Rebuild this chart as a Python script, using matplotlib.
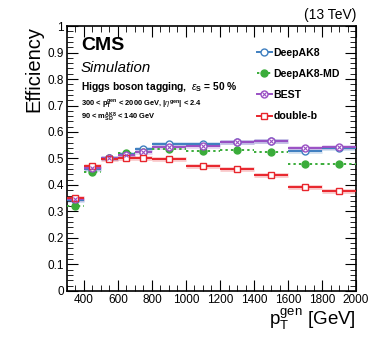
import numpy as np
import matplotlib
matplotlib.use("Agg")
import matplotlib.pyplot as plt
from matplotlib.ticker import MultipleLocator, FixedLocator, FixedFormatter

plt.rcParams['font.family'] = ['Liberation Sans', 'DejaVu Sans']
plt.rcParams['mathtext.fontset'] = 'custom'
plt.rcParams['mathtext.rm'] = 'Liberation Sans'
plt.rcParams['mathtext.it'] = 'Liberation Sans:italic'
plt.rcParams['mathtext.bf'] = 'Liberation Sans:bold'

# pT bins (GeV)
bin_edges = [300, 400, 500, 600, 700, 800, 1000, 1200, 1400, 1600, 1800, 2000]

# efficiencies per bin
eff_deepak8 = [0.344, 0.460, 0.500, 0.518, 0.536, 0.554, 0.554, 0.564, 0.567, 0.530, 0.538]
eff_deepak8_md = [0.322, 0.449, 0.500, 0.520, 0.525, 0.537, 0.529, 0.531, 0.525, 0.480, 0.480]
eff_best = [0.347, 0.463, 0.500, 0.513, 0.525, 0.543, 0.548, 0.563, 0.566, 0.538, 0.544]
eff_doubleb = [0.351, 0.471, 0.499, 0.503, 0.500, 0.499, 0.473, 0.459, 0.437, 0.392, 0.376]

series_names = ['DeepAK8', 'DeepAK8-MD', 'BEST', 'double-b']
series_colors = ['#3f7fc0', '#3aac3a', '#9a50c4', '#e8252c']

edges = np.array(bin_edges)
centers = (edges[:-1] + edges[1:]) / 2
half_w = (edges[1:] - edges[:-1]) / 2

fig = plt.figure(figsize=(3.74, 3.43), dpi=100)
ax = fig.add_axes([0.179, 0.152, 0.773, 0.772])

all_eff = [eff_deepak8, eff_deepak8_md, eff_best, eff_doubleb]
handles = []
for name, eff, col in zip(series_names, all_eff, series_colors):
    eff = np.array(eff)
    ls = (0, (1.2, 1.6)) if name == 'DeepAK8-MD' else '-'
    if name != 'DeepAK8-MD':
        # light shadow band under the bin lines
        ax.errorbar(centers, eff, xerr=half_w, fmt='none', ecolor=col,
                    elinewidth=3.4, alpha=0.25, capsize=0, zorder=2)
    eb = ax.errorbar(centers, eff, xerr=half_w, fmt='none', ecolor=col,
                     elinewidth=1.4, capsize=0, zorder=3)
    eb[2][0].set_linestyle(ls)
    if name == 'DeepAK8':
        m, = ax.plot(centers, eff, 'o', ms=5, mfc='white', mec=col, mew=1.0, zorder=5)
    elif name == 'DeepAK8-MD':
        m, = ax.plot(centers, eff, 'o', ms=5, mfc=col, mec=col, zorder=5)
    elif name == 'BEST':
        m, = ax.plot(centers, eff, 'o', ms=5, mfc='white', mec=col, mew=1.0, zorder=5)
        ax.plot(centers, eff, 'x', ms=3.5, mec=col, mew=0.8, zorder=6)
    else:
        m, = ax.plot(centers, eff, 's', ms=5, mfc='white', mec=col, mew=1.0, zorder=5)
    leg_line, = ax.plot([], [], color=col, ls=ls, lw=1.4)
    if name == 'BEST':
        x_m, = ax.plot([], [], 'x', ms=3.5, mec=col, mew=0.8)
        handles.append((leg_line, m, x_m))
    else:
        handles.append((leg_line, m))

ax.set_xlim(300, 2000)
ax.set_ylim(0, 1)

ax.set_xticks([400, 600, 800, 1000, 1200, 1400, 1600, 1800, 2000])
ax.xaxis.set_minor_locator(MultipleLocator(50))
yt = [0, 0.1, 0.2, 0.3, 0.4, 0.5, 0.6, 0.7, 0.8, 0.9, 1.0]
ax.yaxis.set_major_locator(FixedLocator(yt))
ax.yaxis.set_major_formatter(FixedFormatter(['0', '0.1', '0.2', '0.3', '0.4', '0.5',
                                             '0.6', '0.7', '0.8', '0.9', '1']))
ax.yaxis.set_minor_locator(MultipleLocator(0.02))
ax.tick_params(which='both', direction='in', top=True, right=True, labelsize=8.5, pad=2)
ax.tick_params(which='major', length=8, width=0.8)
ax.tick_params(which='minor', length=4, width=0.6)
for s in ax.spines.values():
    s.set_linewidth(1.2)

ax.set_ylabel('Efficiency', fontsize=14.5, loc='top', labelpad=3)
ax.set_xlabel(r'p$_\mathregular{T}^\mathregular{gen}$ [GeV]', fontsize=13.5, loc='right', labelpad=1)

fig.text(0.952, 0.935, '(13 TeV)', ha='right', va='bottom', fontsize=10)

tx = 0.048
ax.text(tx, 0.909, 'CMS', transform=ax.transAxes, fontsize=14, fontweight='bold', va='baseline')
ax.text(tx, 0.826, 'Simulation', transform=ax.transAxes, fontsize=10.8, style='italic', va='baseline')
ax.text(tx, 0.758, r'Higgs boson tagging,  $\epsilon_\mathregular{S}$ = 50 %', transform=ax.transAxes,
        fontsize=7.4, fontweight='bold', va='baseline')
ax.text(tx, 0.697, r'300 < p$_\mathbf{T}^\mathbf{gen}$ < 2000 GeV, |$\eta^\mathbf{gen}$| < 2.4',
        transform=ax.transAxes, fontsize=5.4, fontweight='bold', va='baseline')
ax.text(tx, 0.648, r'90 < m$_\mathbf{SD}^\mathbf{AK8}$ < 140 GeV',
        transform=ax.transAxes, fontsize=5.4, fontweight='bold', va='baseline')

leg = ax.legend(handles, series_names, loc='upper left', bbox_to_anchor=(0.657, 0.918),
                frameon=False, handlelength=1.42, handletextpad=0.15, borderpad=0,
                borderaxespad=0, labelspacing=1.06, prop={'weight': 'bold', 'size': 7.6})

fig.savefig('out.png', dpi=100)
